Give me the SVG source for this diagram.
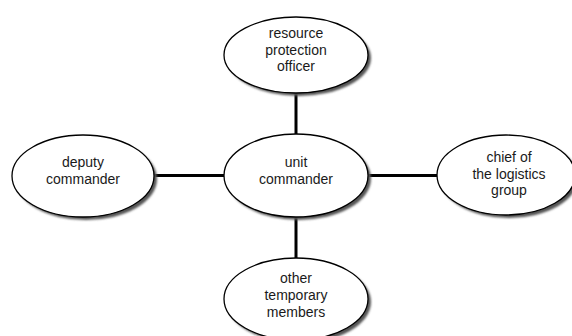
<svg xmlns="http://www.w3.org/2000/svg" width="572" height="336" viewBox="0 0 572 336">
<defs>
<filter id="blur" x="-10%" y="-10%" width="120%" height="120%"><feGaussianBlur stdDeviation="1.2"/></filter>
</defs>
<style>
.shadow{fill:#555;filter:url(#blur)}
.node{fill:#fff;stroke:#000;stroke-width:1.3}
.conn{stroke:#000;stroke-width:3;fill:none}
text{font-family:"Liberation Sans",Arial,sans-serif;font-size:14px;fill:#1a1a1a;text-anchor:middle}
</style>
<rect width="572" height="336" fill="#fff"/>
<g id="connectors">
<line class="conn" x1="296" y1="92" x2="296" y2="134"/>
<line class="conn" x1="154" y1="175.5" x2="224" y2="175.5"/>
<line class="conn" x1="368" y1="175.5" x2="437" y2="175.5"/>
<line class="conn" x1="296" y1="217" x2="296" y2="258"/>
</g>
<g id="resource-protection-officer">
<ellipse class="shadow" cx="299" cy="58" rx="72" ry="38"/>
<ellipse class="node" cx="296" cy="55" rx="72" ry="38"/>
<text x="296" y="38">resource</text>
<text x="296" y="54.5">protection</text>
<text x="296" y="71">officer</text>
</g>
<g id="deputy-commander">
<ellipse class="shadow" cx="86" cy="179" rx="71" ry="41"/>
<ellipse class="node" cx="83" cy="176" rx="71" ry="41"/>
<text x="83" y="167">deputy</text>
<text x="83" y="183.5">commander</text>
</g>
<g id="unit-commander">
<ellipse class="shadow" cx="299" cy="178.5" rx="72" ry="41.5"/>
<ellipse class="node" cx="296" cy="175.5" rx="72" ry="41.5"/>
<text x="296" y="167">unit</text>
<text x="296" y="183.5">commander</text>
</g>
<g id="chief-of-the-logistics-group">
<ellipse class="shadow" cx="509" cy="178" rx="69" ry="40"/>
<ellipse class="node" cx="506" cy="175" rx="69" ry="40"/>
<text x="509" y="162">chief of</text>
<text x="509" y="178.5">the logistics</text>
<text x="509" y="195">group</text>
</g>
<g id="other-temporary-members">
<ellipse class="shadow" cx="299" cy="302" rx="72" ry="41"/>
<ellipse class="node" cx="296" cy="299" rx="72" ry="41"/>
<text x="296" y="283">other</text>
<text x="296" y="300">temporary</text>
<text x="296" y="317">members</text>
</g>
</svg>
